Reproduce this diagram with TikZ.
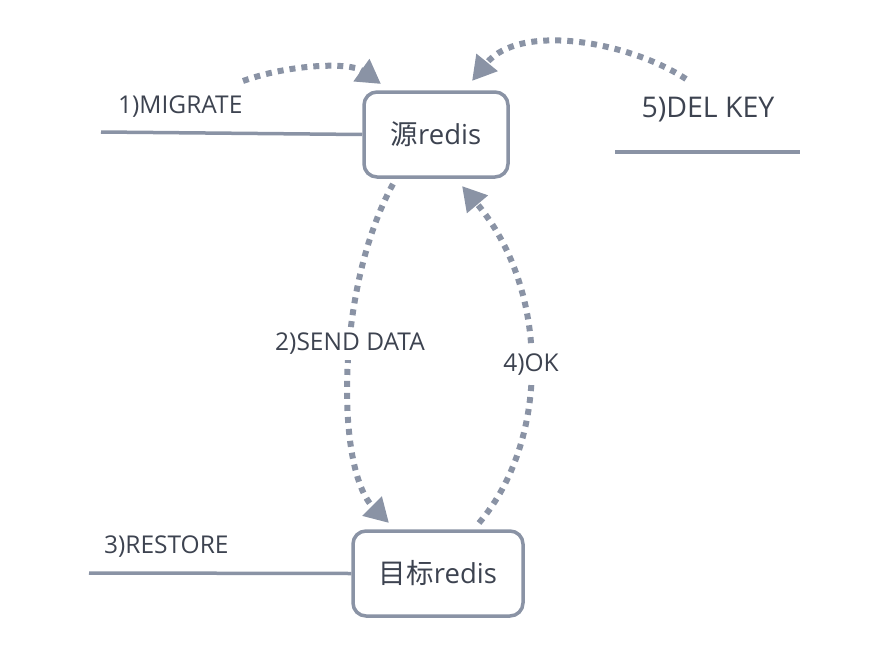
\documentclass[tikz,border=0pt]{standalone}
\usepackage{fontspec}
\setmainfont{Open Sans}
\newfontfamily\cjk{Noto Sans CJK SC}
\usetikzlibrary{arrows.meta}
\definecolor{edgec}{HTML}{8A93A5}
\definecolor{textc}{HTML}{3D4350}
\tikzset{
  box/.style={draw=edgec, line width=3.5pt, rounded corners=13pt, fill=white, text=textc, inner sep=0pt, font=\fontsize{27.5}{32}\selectfont},
  lbl/.style={text=textc, inner sep=1pt, font=\fontsize{24.5}{28}\selectfont},
  plain/.style={draw=edgec, line width=3.5pt},
  dotarrow/.style={draw=edgec, line width=6pt, dash pattern=on 6pt off 6pt, -{Triangle[length=24pt,width=26pt]}},
}
\begin{document}
\begin{tikzpicture}[x=1pt,y=-1pt]
\useasboundingbox (0,0) rectangle (876,656);
\node[box, minimum width=144pt, minimum height=85pt] (src) at (436,134.5) {{\cjk 源}redis};
\node[box, minimum width=170pt, minimum height=85pt] (dst) at (438,573.5) {{\cjk 目标}redis};
\coordinate (m0) at (101,132);
\draw[plain] (m0) -- (src.west);
\node[lbl, anchor=west] (mlbl) at (117,107) {1)MIGRATE};
\coordinate (r0) at (89,573);
\draw[plain] (r0) -- (dst.west);
\node[lbl, anchor=west] (rlbl) at (103,547) {3)RESTORE};
\node[lbl, font=\fontsize{28.5}{32}\selectfont] (dlbl) at (708,110) {5)DEL KEY};
\coordinate (d0) at (615,152);
\coordinate (d1) at (800,152);
\draw[plain] (d0) -- (d1);
% arrow 1
\coordinate (a1s) at (243,81);
\coordinate (a1e) at (381,84);
\draw[dotarrow] (a1s) .. controls (290,64) and (350,62) .. (a1e);
% arrow 5
\coordinate (a5s) at (686,79);
\coordinate (a5e) at (472,81);
\draw[dotarrow] (a5s) .. controls (630,42) and (520,22) .. (a5e);
% arrow 2
\coordinate (a2s) at (393,184);
\coordinate (a2e) at (389,523);
\draw[dotarrow] (a2s) .. controls (335,290) and (336,470) .. (a2e);
% arrow 4
\coordinate (a4s) at (479,523);
\coordinate (a4e) at (462,186);
\draw[dotarrow] (a4s) .. controls (550,440) and (550,290) .. (a4e);
\node[lbl, fill=white, inner ysep=5pt] (l2) at (350,344) {2)SEND DATA};
\node[lbl, fill=white, inner ysep=6pt] (l4) at (531,365) {4)OK};
\end{tikzpicture}
\end{document}
